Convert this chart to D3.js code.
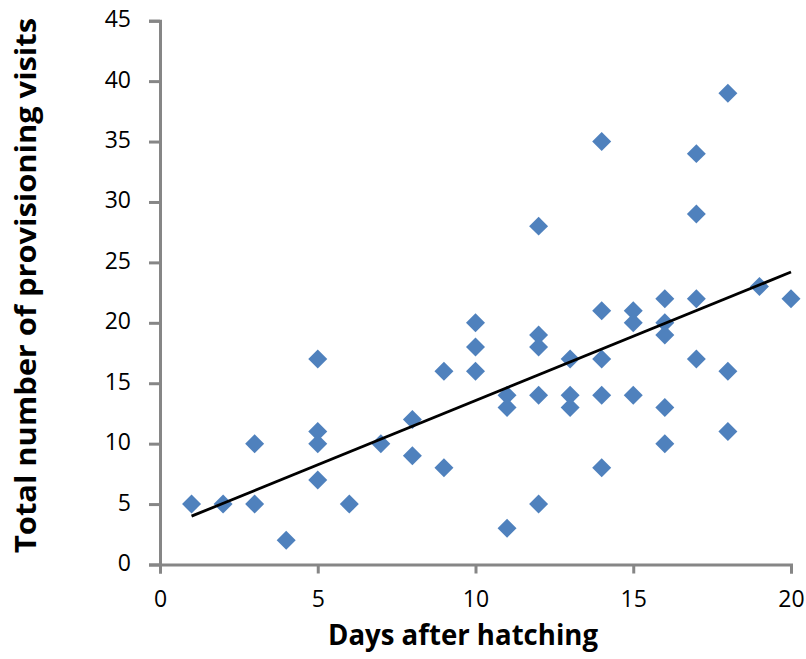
<!DOCTYPE html>
<html>
<head>
<meta charset="utf-8">
<script src="https://cdn.jsdelivr.net/npm/d3@7"></script>
<style>
  body { margin: 0; background: #fff; }
  svg { display: block; font-family: "Open Sans", "Noto Sans", sans-serif; }
  .axis path, .axis line { stroke: #868686; stroke-width: 3; }
  .axis text { font-family: "Open Sans", "Noto Sans", sans-serif; font-size: 23px; fill: #000; }
</style>
</head>
<body>
<svg width="806" height="659"></svg>
<script>
// days after hatching and visit counts
const days = [1, 2, 3, 3, 4, 5, 5, 5, 5, 6, 7, 8, 8, 9, 9, 10, 10, 10, 11, 11, 11,
    12, 12, 12, 12, 12, 13, 13, 13, 14, 14, 14, 14, 14, 15, 15, 15,
    16, 16, 16, 16, 16, 17, 17, 17, 17, 18, 18, 18, 19, 20];
const visits = [5, 5, 10, 5, 2, 17, 11, 10, 7, 5, 10, 12, 9, 16, 8, 20, 18, 16, 14, 13, 3,
    28, 19, 18, 14, 5, 17, 14, 13, 35, 21, 17, 14, 8, 21, 20, 14,
    22, 20, 19, 13, 10, 34, 29, 22, 17, 39, 16, 11, 23, 22];

// linear trendline end points
const trendDays = [1, 20];
const trendVisits = [4.0, 24.2];

const xTicks = [0, 5, 10, 15, 20];
const yTicks = [0, 5, 10, 15, 20, 25, 30, 35, 40, 45];

const svg = d3.select("svg");
var margin = { top: 20.7, right: 15, bottom: 94.5, left: 160 };
var width = 791;
var height = 564.5;

const xScale = d3.scaleLinear().domain([0, 20]).range([margin.left, width]);
const yScale = d3.scaleLinear().domain([0, 45]).range([height, margin.top]);

const g = svg.append("g");

//axes
const gY = g.append("g").attr("class", "axis y-axis")
    .attr("transform", `translate(${margin.left}, 0)`)
    .call(d3.axisLeft(yScale).tickValues(yTicks).tickSize(11).tickPadding(18).tickSizeOuter(11));
gY.selectAll("text").attr("dy", null).attr("y", 6);

const gX = g.append("g").attr("class", "axis x-axis")
    .attr("transform", `translate(0, ${height})`)
    .call(d3.axisBottom(xScale).tickValues(xTicks).tickSize(9).tickPadding(5).tickSizeOuter(9));
gX.selectAll("text").attr("dy", null).attr("y", 42);

//points
const pts = days.map((d, i) => [d, visits[i]]);
const diamond = d3.symbol().type(d3.symbolSquare).size(180);
g.append("g").selectAll("path")
    .data(pts)
    .enter().append("path")
    .attr("d", diamond)
    .attr("transform", d => `translate(${xScale(d[0])}, ${yScale(d[1])}) rotate(45)`)
    .attr("fill", "#4F81BD");

//trendline on top of points
g.append("line")
    .attr("x1", xScale(trendDays[0]))
    .attr("y1", yScale(trendVisits[0]))
    .attr("x2", xScale(trendDays[1]))
    .attr("y2", yScale(trendVisits[1]))
    .attr("stroke", "#000")
    .attr("stroke-width", 2.8);

//axis titles
g.append("text")
    .attr("text-anchor", "middle")
    .attr("x", 463)
    .attr("y", 645)
    .attr("textLength", 270)
    .attr("lengthAdjust", "spacingAndGlyphs")
    .style("font-size", "28px")
    .style("font-weight", "bold")
    .text("Days after hatching");

g.append("text")
    .attr("text-anchor", "middle")
    .attr("transform", "translate(36, 285.5) rotate(-90)")
    .attr("textLength", 535)
    .attr("lengthAdjust", "spacingAndGlyphs")
    .style("font-size", "28px")
    .style("font-weight", "bold")
    .text("Total number of provisioning visits");
</script>
</body>
</html>
